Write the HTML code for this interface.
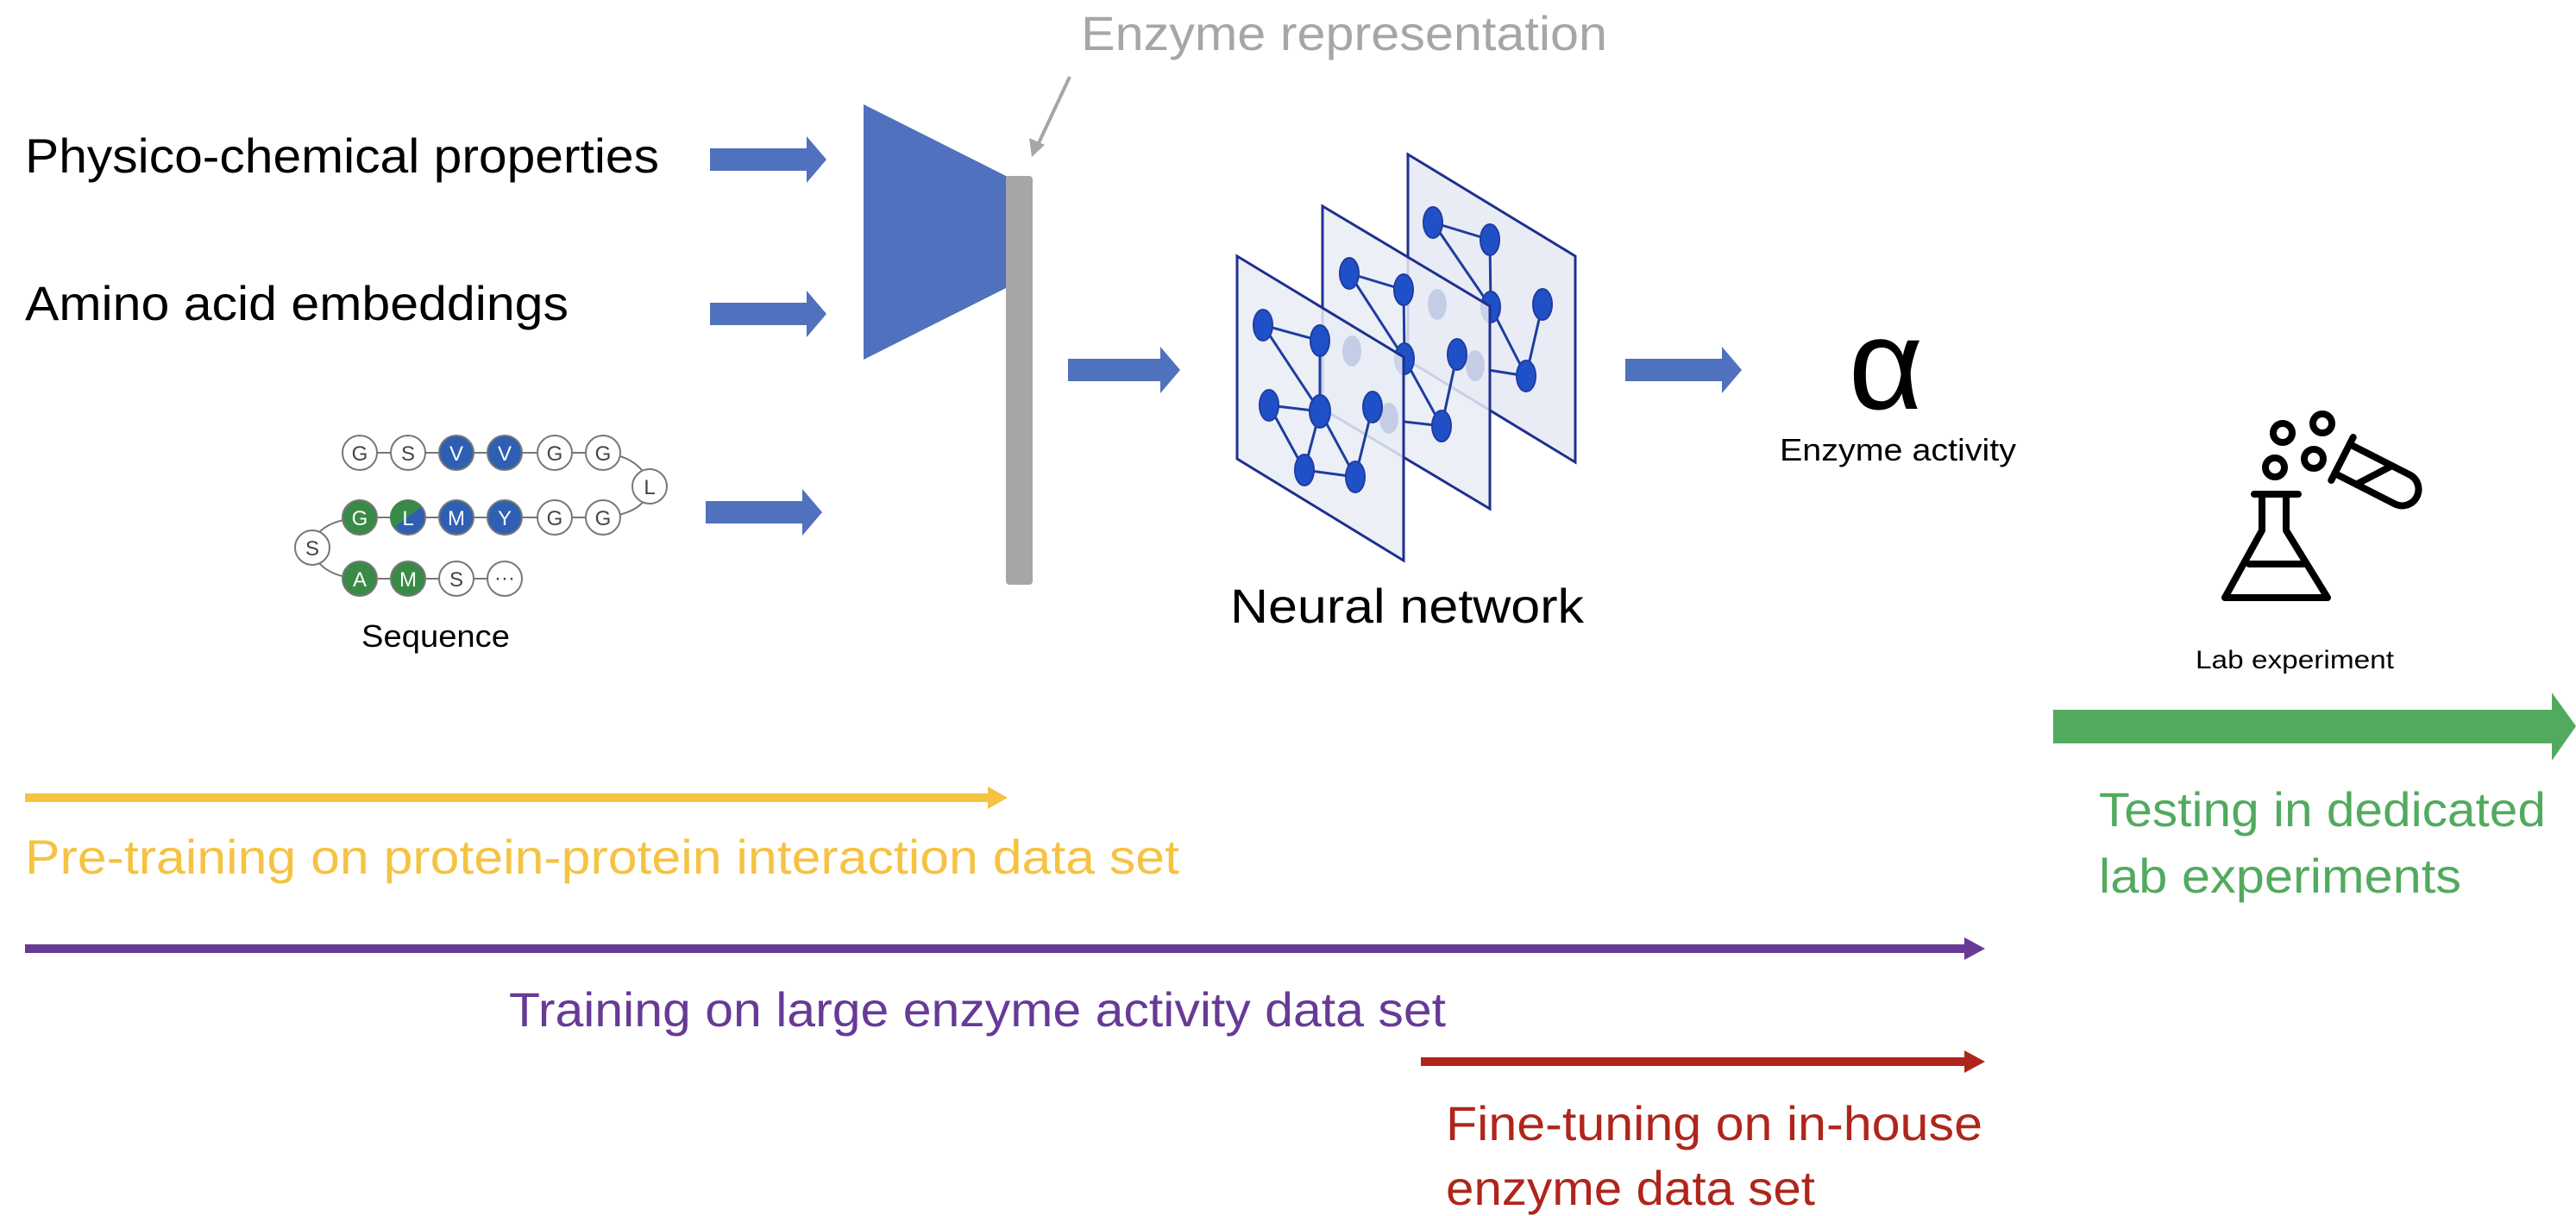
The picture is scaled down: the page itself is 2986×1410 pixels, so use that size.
<!DOCTYPE html>
<html><head><meta charset="utf-8"><style>
html,body{margin:0;padding:0;background:#fff;}
svg{display:block;}
text{font-family:"Liberation Sans",sans-serif;}
</style></head><body>
<svg width="2986" height="1410" viewBox="0 0 2986 1410" xmlns="http://www.w3.org/2000/svg">
<defs>
<g id="barr"><polygon points="0,-12 64,-12 64,-28 75,0 64,28 64,12 0,12" fill="#4F71BE"/></g>
</defs>

<!-- left labels -->
<text x="29" y="200" font-size="56" fill="#000" textLength="735" lengthAdjust="spacingAndGlyphs">Physico-chemical properties</text>
<text x="29" y="371" font-size="56" fill="#000" textLength="630" lengthAdjust="spacingAndGlyphs">Amino acid embeddings</text>

<!-- input arrows -->
<polygon points="823,172 935,172 935,158 958,185 935,212 935,198 823,198" fill="#4F71BE"/>
<polygon points="823,351 935,351 935,337 958,364 935,391 935,377 823,377" fill="#4F71BE"/>
<polygon points="818,581 930,581 930,567 953,594 930,621 930,607 818,607" fill="#4F71BE"/>

<!-- encoder trapezoid -->
<polygon points="1001,121 1168,205 1168,333 1001,417" fill="#4F71BE"/>
<rect x="1166" y="204" width="31" height="474" rx="4" fill="#A6A6A6"/>

<!-- Enzyme representation -->
<text x="1253" y="58" font-size="56" fill="#A6A6A6" textLength="610" lengthAdjust="spacingAndGlyphs">Enzyme representation</text>
<line x1="1240" y1="89" x2="1203" y2="168" stroke="#A6A6A6" stroke-width="4"/>
<polygon points="1196,182 1193,160 1211,168" fill="#A6A6A6"/>

<!-- sequence beads -->
<g stroke="#777" stroke-width="2" fill="none">
<line x1="417" y1="525" x2="699" y2="525"/>
<line x1="417" y1="600" x2="699" y2="600"/>
<line x1="417" y1="671" x2="585" y2="671"/>
<path d="M699,525 Q745,530 753,564 Q750,595 699,600"/>
<path d="M417,600 Q365,605 362,635 Q368,668 417,671"/>
</g>
<g font-size="24" text-anchor="middle" stroke-width="2">
<g stroke="#777">
<circle cx="417" cy="525" r="20" fill="#fff"/><circle cx="473" cy="525" r="20" fill="#fff"/>
<circle cx="529" cy="525" r="20" fill="#2E5FB2"/><circle cx="585" cy="525" r="20" fill="#2E5FB2"/>
<circle cx="643" cy="525" r="20" fill="#fff"/><circle cx="699" cy="525" r="20" fill="#fff"/>
<circle cx="753" cy="564" r="20" fill="#fff"/>
<circle cx="417" cy="600" r="20" fill="#3A8A47"/><circle cx="473" cy="600" r="20" fill="#2E5FB2"/>
<circle cx="529" cy="600" r="20" fill="#2E5FB2"/><circle cx="585" cy="600" r="20" fill="#2E5FB2"/>
<circle cx="643" cy="600" r="20" fill="#fff"/><circle cx="699" cy="600" r="20" fill="#fff"/>
<circle cx="362" cy="635" r="20" fill="#fff"/>
<circle cx="417" cy="671" r="20" fill="#3A8A47"/><circle cx="473" cy="671" r="20" fill="#3A8A47"/>
<circle cx="529" cy="671" r="20" fill="#fff"/><circle cx="585" cy="671" r="20" fill="#fff"/>
</g>
<path d="M456,612 A20,20 0 0 1 488,588 Z" fill="#3A8A47"/>
<g fill="#444" stroke="none">
<text x="417" y="534">G</text><text x="473" y="534">S</text><text x="643" y="534">G</text><text x="699" y="534">G</text>
<text x="753" y="573">L</text><text x="643" y="609">G</text><text x="699" y="609">G</text><text x="362" y="644">S</text>
<text x="529" y="680">S</text><text x="585" y="678">···</text>
</g>
<g fill="#fff" stroke="none">
<text x="529" y="534">V</text><text x="585" y="534">V</text>
<text x="417" y="609">G</text><text x="473" y="609">L</text><text x="529" y="609">M</text><text x="585" y="609">Y</text>
<text x="417" y="680">A</text><text x="473" y="680">M</text>
</g>
</g>
<text x="419" y="750" font-size="36" fill="#000" textLength="172" lengthAdjust="spacingAndGlyphs">Sequence</text>

<!-- arrow to NN -->
<polygon points="1238,416 1345,416 1345,402 1368,429 1345,456 1345,442 1238,442" fill="#4F71BE"/>

<!-- Neural network planes -->
<g stroke="#1F2F8F" stroke-width="3">
<!-- back plane -->
<polygon points="1632,179 1826,297 1826,536 1632,418" fill="#E9ECF5"/>
<g stroke="#1F3DA0" stroke-width="3" fill="none">
<line x1="1661" y1="258" x2="1727" y2="278"/><line x1="1661" y1="258" x2="1728" y2="356"/>
<line x1="1727" y1="278" x2="1728" y2="356"/><line x1="1728" y1="356" x2="1769" y2="436"/>
<line x1="1788" y1="353" x2="1769" y2="436"/><line x1="1769" y1="436" x2="1725" y2="429"/>
</g>
<g fill="#2050C8" stroke="#1F3DA0" stroke-width="2">
<ellipse cx="1661" cy="258" rx="11" ry="18"/><ellipse cx="1727" cy="278" rx="11" ry="18"/>
<ellipse cx="1728" cy="356" rx="11" ry="18"/><ellipse cx="1788" cy="353" rx="11" ry="18"/>
<ellipse cx="1769" cy="436" rx="11" ry="18"/>
</g>
<!-- middle plane -->
<polygon points="1533,239 1727,355 1727,590 1533,474" fill="#E9ECF5" fill-opacity="0.85"/>
<g fill="#C5CDE6" stroke="none"><ellipse cx="1666" cy="353" rx="11" ry="18"/><ellipse cx="1710" cy="424" rx="11" ry="18"/></g>
<g stroke="#1F3DA0" stroke-width="3" fill="none">
<line x1="1564" y1="317" x2="1627" y2="336"/><line x1="1564" y1="317" x2="1628" y2="416"/>
<line x1="1627" y1="336" x2="1628" y2="416"/><line x1="1628" y1="416" x2="1671" y2="494"/>
<line x1="1689" y1="411" x2="1671" y2="494"/><line x1="1671" y1="494" x2="1628" y2="489"/>
</g>
<g fill="#2050C8" stroke="#1F3DA0" stroke-width="2">
<ellipse cx="1564" cy="317" rx="11" ry="18"/><ellipse cx="1627" cy="336" rx="11" ry="18"/>
<ellipse cx="1628" cy="416" rx="11" ry="18"/><ellipse cx="1689" cy="411" rx="11" ry="18"/>
<ellipse cx="1671" cy="494" rx="11" ry="18"/>
</g>
<!-- front plane -->
<polygon points="1434,297 1627,414 1627,650 1434,532" fill="#E9ECF5" fill-opacity="0.85"/>
<g fill="#C5CDE6" stroke="none"><ellipse cx="1567" cy="407" rx="11" ry="18"/><ellipse cx="1610" cy="485" rx="11" ry="18"/></g>
<g stroke="#1F3DA0" stroke-width="3" fill="none">
<line x1="1464" y1="377" x2="1530" y2="395"/><line x1="1464" y1="377" x2="1530" y2="477"/>
<line x1="1530" y1="395" x2="1530" y2="477"/><line x1="1471" y1="470" x2="1530" y2="477"/>
<line x1="1471" y1="470" x2="1512" y2="545"/><line x1="1530" y1="477" x2="1512" y2="545"/>
<line x1="1530" y1="477" x2="1571" y2="553"/><line x1="1512" y1="545" x2="1571" y2="553"/>
<line x1="1591" y1="472" x2="1571" y2="553"/>
</g>
<g fill="#2050C8" stroke="#1F3DA0" stroke-width="2">
<ellipse cx="1464" cy="377" rx="11" ry="18"/><ellipse cx="1530" cy="395" rx="11" ry="18"/>
<ellipse cx="1471" cy="470" rx="11" ry="18"/><ellipse cx="1530" cy="477" rx="12" ry="19"/>
<ellipse cx="1591" cy="472" rx="11" ry="18"/><ellipse cx="1512" cy="545" rx="11" ry="18"/>
<ellipse cx="1571" cy="553" rx="11" ry="18"/>
</g>
</g>
<text x="1426" y="722" font-size="56" fill="#000" textLength="410" lengthAdjust="spacingAndGlyphs">Neural network</text>

<!-- arrow to alpha -->
<polygon points="1884,416 1996,416 1996,402 2019,429 1996,456 1996,442 1884,442" fill="#4F71BE"/>
<text x="2186" y="474" font-size="150" text-anchor="middle" font-family="Liberation Serif, serif" fill="#000">α</text>
<text x="2063" y="534" font-size="36" fill="#000" textLength="274" lengthAdjust="spacingAndGlyphs">Enzyme activity</text>

<!-- flask icon -->
<g fill="none" stroke="#000" stroke-width="8" stroke-linecap="round" stroke-linejoin="round">
<line x1="2613" y1="573" x2="2664" y2="573"/>
<path d="M2622,573 L2622,615 L2579,693 L2698,693 L2650,615 L2650,573"/>
<line x1="2607" y1="654" x2="2670" y2="654"/>
<circle cx="2646" cy="502" r="11"/><circle cx="2692" cy="491" r="11"/>
<circle cx="2637" cy="542" r="11"/><circle cx="2682" cy="532" r="11"/>
<g transform="translate(2715,532) rotate(27)">
<line x1="0" y1="-28" x2="0" y2="28"/>
<path d="M0,-19 L78,-19 A19,19 0 0 1 78,19 L0,19"/>
<line x1="28" y1="19" x2="55" y2="-19"/>
</g>
</g>
<text x="2545" y="775" font-size="30" fill="#000" textLength="230" lengthAdjust="spacingAndGlyphs">Lab experiment</text>

<!-- green arrow -->
<polygon points="2380,823 2958,823 2958,803 2986,842 2958,882 2958,862 2380,862" fill="#52AA5E"/>
<text x="2433" y="958" font-size="56" fill="#52AA5E" textLength="518" lengthAdjust="spacingAndGlyphs">Testing in dedicated</text>
<text x="2433" y="1035" font-size="56" fill="#52AA5E" textLength="420" lengthAdjust="spacingAndGlyphs">lab experiments</text>

<!-- timelines -->
<polygon points="29,920 1145,920 1145,912 1168,925 1145,938 1145,930 29,930" fill="#F5C242"/>
<text x="29" y="1013" font-size="56" fill="#F5C242" textLength="1338" lengthAdjust="spacingAndGlyphs">Pre-training on protein-protein interaction data set</text>

<polygon points="29,1095 2277,1095 2277,1087 2301,1100 2277,1113 2277,1105 29,1105" fill="#673A96"/>
<text x="590" y="1190" font-size="56" fill="#673A96" textLength="1086" lengthAdjust="spacingAndGlyphs">Training on large enzyme activity data set</text>

<polygon points="1647,1226 2277,1226 2277,1218 2301,1231 2277,1244 2277,1236 1647,1236" fill="#B0251B"/>
<text x="1676" y="1322" font-size="56" fill="#B0251B" textLength="622" lengthAdjust="spacingAndGlyphs">Fine-tuning on in-house</text>
<text x="1676" y="1397" font-size="56" fill="#B0251B" textLength="428" lengthAdjust="spacingAndGlyphs">enzyme data set</text>
</svg>
</body></html>
